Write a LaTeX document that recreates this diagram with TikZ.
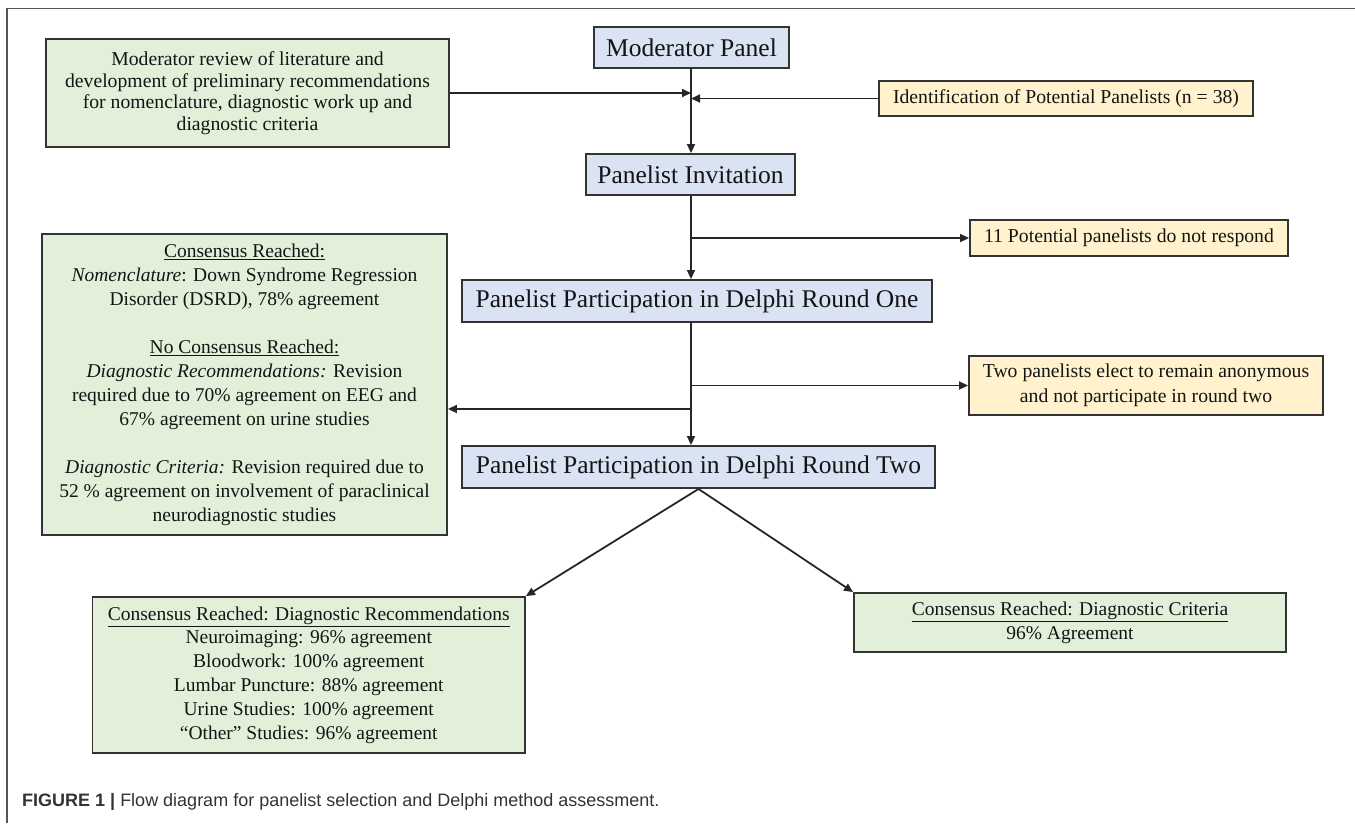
\documentclass[tikz,border=0pt]{standalone}
\usepackage{fontspec}
\setmainfont{Liberation Serif}
\newfontfamily\capfont{Liberation Sans}
\usetikzlibrary{arrows.meta}
\definecolor{bluefill}{HTML}{DAE3F3}
\definecolor{greenfill}{HTML}{E2F0D9}
\definecolor{yellowfill}{HTML}{FFF2CC}
\definecolor{edgecol}{HTML}{333333}
\definecolor{framecol}{HTML}{555555}
\definecolor{captext}{HTML}{333333}
\tikzset{
  box/.style={draw=edgecol, line width=1.9pt, inner sep=0pt, align=center, text=black!92},
  bluebox/.style={box, fill=bluefill, font=\fontsize{25.5}{28}\selectfont},
  greenbox/.style={box, fill=greenfill},
  yellowbox/.style={box, fill=yellowfill, font=\fontsize{19.7}{25}\selectfont},
  arr/.style={draw=black!85, line width=1.8pt, -{Triangle[length=9pt,width=8pt]}},
}
\begin{document}
\begin{tikzpicture}[x=1pt,y=-1pt]
\useasboundingbox (0,0) rectangle (1355,823);
% frame
\draw[framecol, line width=1.6pt] (7,823) -- (7,8.5) -- (1355,8.5);

% main column
\node[bluebox, minimum width=195pt, minimum height=41pt] (mod) at (691.5,47.5) {Moderator Panel};
\node[bluebox, minimum width=209pt, minimum height=41pt] (inv) at (690.5,174.5) {Panelist Invitation};
\node[bluebox, minimum width=470pt, minimum height=42pt] (r1) at (697,301) {Panelist Participation in Delphi Round One};
\node[bluebox, minimum width=473pt, minimum height=42pt] (r2) at (698.5,467) {Panelist Participation in Delphi Round Two};

% left / right boxes
\node[greenbox, minimum width=403pt, minimum height=108pt, font=\fontsize{19.7}{21.5}\selectfont] (lit) at (247.5,93)
  {Moderator review of literature and\\development of preliminary recommendations\\for nomenclature, diagnostic work up and\\diagnostic criteria};
\node[yellowbox, minimum width=374pt, minimum height=35pt] (ident) at (1066,98.5) {Identification of Potential Panelists (n = 38)};
\node[yellowbox, minimum width=318pt, minimum height=36pt] (nores) at (1129,238) {11 Potential panelists do not respond};
\node[yellowbox, minimum width=354pt, minimum height=59pt] (anon) at (1146,385.5) {Two panelists elect to remain anonymous\\and not participate in round two};

\node[greenbox, minimum width=405pt, minimum height=301pt, font=\fontsize{19.5}{24}\selectfont] (big) at (244.5,384.5)
  {\underline{Consensus Reached:}\\
   \textit{Nomenclature}: Down Syndrome Regression\\
   Disorder (DSRD), 78\% agreement\\[24pt]
   \underline{No Consensus Reached:}\\
   \textit{Diagnostic Recommendations:} Revision\\
   required due to 70\% agreement on EEG and\\
   67\% agreement on urine studies\\[24pt]
   \textit{Diagnostic Criteria:} Revision required due to\\
   52 \% agreement on involvement of paraclinical\\
   neurodiagnostic studies};

\node[greenbox, minimum width=432.5pt, minimum height=156pt, font=\fontsize{19.5}{23.8}\selectfont] (recs) at (308.75,675)
  {\underline{Consensus Reached: Diagnostic Recommendations}\\
   Neuroimaging: 96\% agreement\\
   Bloodwork: 100\% agreement\\
   Lumbar Puncture: 88\% agreement\\
   Urine Studies: 100\% agreement\\
   “Other” Studies: 96\% agreement};
\node[greenbox, minimum width=432pt, minimum height=59pt, font=\fontsize{19.5}{24}\selectfont] (crit) at (1070,622.5)
  {\underline{Consensus Reached: Diagnostic Criteria}\\96\% Agreement};

% spine coordinates
\coordinate (spine) at (691,0);
\coordinate (jbig) at (691,409);

% connectors
\draw[arr] (spine |- mod.south) -- (spine |- inv.north);
\draw[arr] (lit.east) -- (lit.east -| spine);
\draw[arr] (ident.west) -- (ident.west -| spine);
\draw[arr] (spine |- inv.south) -- (spine |- r1.north);
\draw[arr] (spine |- nores.west) -- (nores.west);
\draw[arr] (spine |- r1.south) -- (spine |- r2.north);
\draw[arr] (spine |- anon.west) -- (anon.west);
\draw[arr] (jbig) -- (jbig -| big.east);
\draw[arr] (r2.south) -- (recs.north east);
\draw[arr] (r2.south) -- (crit.north west);

% caption
\node[anchor=west, inner sep=0pt, font=\capfont\fontsize{18}{20}\selectfont, text=captext] (cap) at (22,802)
  {{\bfseries FIGURE 1 |} Flow diagram for panelist selection and Delphi method assessment.};
\end{tikzpicture}
\end{document}
